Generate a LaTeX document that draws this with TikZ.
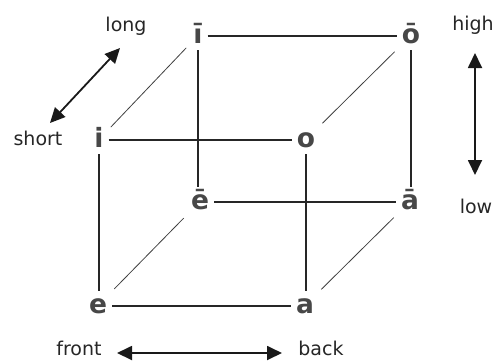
\documentclass[tikz,border=0pt]{standalone}
\usepackage{fontspec}
\setmainfont{DejaVu Sans}
\usetikzlibrary{arrows.meta}
\begin{document}
\begin{tikzpicture}[x=1pt,y=-1pt,
  vowel/.style={font=\fontsize{26.5}{29}\selectfont\bfseries, text=black!72, text height=15pt, text depth=0pt, inner xsep=5pt, inner ysep=7pt, anchor=base},
  cubeedge/.style={line width=2pt, black!85},
  diag/.style={line width=0.8pt, black!75, shorten <=3pt, shorten >=3pt},
  dimarrow/.style={line width=1.8pt, black!90, {Triangle[length=15pt,width=14pt]}-{Triangle[length=15pt,width=14pt]}},
  lbl/.style={font=\fontsize{19}{21}\selectfont, text=black!85, inner sep=0pt}
]
\useasboundingbox (0,0) rectangle (497,360);
% vowels
\node[vowel] (ib) at (198,43) {ī};
\node[vowel] (ob) at (411,43) {ō};
\node[vowel] (i)  at (99,147) {i};
\node[vowel] (o)  at (306,147) {o};
\node[vowel] (eb) at (200,209) {ē};
\node[vowel] (ab) at (410,209) {ā};
\node[vowel] (e)  at (98,313) {e};
\node[vowel] (a)  at (305,313) {a};
% cube edges
\draw[cubeedge] (ib) -- (ob);
\draw[cubeedge] (i) -- (o);
\draw[cubeedge] (eb) -- (ab);
\draw[cubeedge] (e) -- (a);
\draw[cubeedge] (ib.south) -- (ib.south |- eb.north);
\draw[cubeedge] (ob.south) -- (ob.south |- ab.north);
\draw[cubeedge] (i.south) -- (i.south |- e.north);
\draw[cubeedge] (o.south) -- (o.south |- a.north);
% depth diagonals
\draw[diag] (i) -- (ib);
\draw[diag] (o) -- (ob);
\draw[diag] (e) -- (eb);
\draw[diag] (a) -- (ab);
% labels
\node[lbl] (long)  at (126,26)  {long};
\node[lbl] (short) at (38,138)  {short};
\node[lbl] (high)  at (473,25)  {high};
\node[lbl] (low)   at (476,206) {low};
\node[lbl] (front) at (79,348)  {front};
\node[lbl] (back)  at (321,348) {back};
% dimension arrows
\coordinate (sa) at (50,123);
\coordinate (la) at (120,48);
\coordinate (ha) at (475,53);
\coordinate (lo) at (475,175);
\coordinate (fa) at (117,353);
\coordinate (ba) at (282,353);
\draw[dimarrow] (sa) -- (la);
\draw[dimarrow] (ha) -- (lo);
\draw[dimarrow] (fa) -- (ba);
\end{tikzpicture}
\end{document}
